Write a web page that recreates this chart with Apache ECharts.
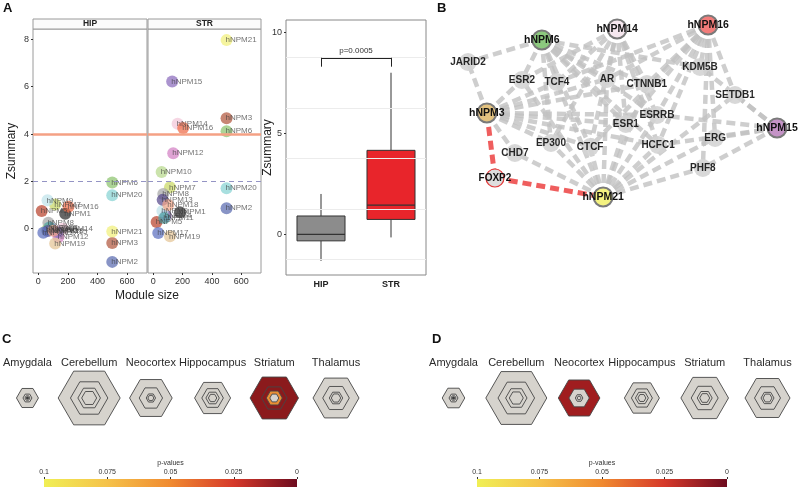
<!DOCTYPE html>
<html><head><meta charset="utf-8">
<script src="https://cdn.jsdelivr.net/npm/echarts@6/dist/echarts.min.js"></script>
<style>html,body{margin:0;padding:0;background:#fff}#c{width:800px;height:487px}</style>
</head><body><div id="c"></div>
<script>
// ---------- Panel A: scatter data ----------
const modules = ['hNPM1','hNPM2','hNPM3','hNPM4','hNPM5','hNPM6','hNPM7','hNPM8','hNPM9','hNPM10','hNPM11','hNPM12','hNPM13','hNPM14','hNPM15','hNPM16','hNPM17','hNPM18','hNPM19','hNPM20','hNPM21'];
const moduleSize = [182, 500, 500, 85, 23, 500, 114, 68, 62, 57, 75, 136, 64, 166, 129, 204, 34, 102, 114, 500, 500];
const zHIP = [0.63, -1.4, -0.6, 0.02, 0.75, 1.95, 1.02, 0.25, 1.2, -0.05, 0.05, -0.35, -0.1, 0.0, -0.15, 0.93, -0.17, -0.08, -0.62, 1.42, -0.12];
const zSTR = [0.7, 0.87, 4.67, 0.55, 0.28, 4.12, 1.75, 1.47, 0.75, 2.4, 0.45, 3.19, 1.22, 4.44, 6.22, 4.26, -0.18, 1.0, -0.32, 1.71, 7.97];
const moduleColors = ['#2b2b2b','#5a6bb0','#b2573f','#7d5fa8','#b9432d','#8cc46d','#c9d865','#a6a6a6','#bfe3ea','#b7d88c','#4fa3a5','#d27fc4','#574a8c','#f2c6d8','#8a6bbd','#ef6b47','#5c6fbf','#f4a688','#e4c595','#86d2d2','#f1f07a'];
const thresholdSolid = 4;
const thresholdDashed = 2;
const xTicks = [0, 200, 400, 600];
const yTicks = [0, 2, 4, 6, 8];

// ---------- Panel A: boxplot ----------
const groups = ['HIP', 'STR'];
const boxHIP = [-1.31, -0.32, 0.0, 0.91, 2.0];   // min, Q1, median, Q3, max
const boxSTR = [-0.15, 0.74, 1.45, 4.16, 8.0];
const boxYTicks = [0, 5, 10];
const boxGridLines = [-1.25, 1.25, 3.75, 6.25, 8.75];
const pText = 'p=0.0005';
const bracketTop = 8.74, bracketBottom = 8.3;

// ---------- Panel B: network ----------
const netNodes = ['hNPM6','hNPM14','hNPM16','hNPM3','hNPM15','hNPM21','JARID2','ESR2','TCF4','AR','CTNNB1','KDM5B','SETDB1','ESRRB','ESR1','ERG','EP300','CTCF','HCFC1','CHD7','PHF8','FOXP2'];
const netX = [29.1, 50.6, 76.6, 13.4, 96.3, 46.6, 8.0, 23.4, 33.4, 47.7, 59.1, 74.3, 84.3, 62.0, 53.1, 78.6, 31.7, 42.9, 62.3, 21.4, 75.1, 15.7];
const netY = [12.5, 7.0, 5.0, 49.0, 56.5, 91.0, 23.5, 32.5, 33.5, 32.0, 34.5, 26.0, 40.0, 50.0, 54.5, 61.5, 64.0, 66.0, 65.0, 69.0, 76.5, 81.5];
const netModuleColors = {hNPM6:'#8cc97e', hNPM14:'#f6e7ef', hNPM16:'#f27c7a', hNPM3:'#e3c27f', hNPM15:'#c493c6', hNPM21:'#f4f280'};
const netEdges = {
  hNPM6: ['JARID2','ESR2','TCF4','AR','CTNNB1','ESR1','ESRRB','EP300','CTCF','HCFC1','KDM5B'],
  hNPM14: ['ESR2','TCF4','AR','CTNNB1','ESR1','ESRRB','EP300','CTCF','HCFC1'],
  hNPM16: ['KDM5B','SETDB1','CTNNB1','AR','ESRRB','ESR1','ERG','HCFC1','PHF8','CTCF','TCF4'],
  hNPM3: ['JARID2','ESR2','TCF4','AR','CTNNB1','ESR1','ESRRB','EP300','CTCF','CHD7','HCFC1'],
  hNPM15: ['SETDB1','ERG','PHF8','ESRRB','HCFC1','KDM5B'],
  hNPM21: ['CHD7','EP300','CTCF','HCFC1','ESR1','ESRRB','PHF8','ERG','AR','CTNNB1','TCF4','ESR2','SETDB1']
};
const redEdges = [['hNPM3','FOXP2'], ['FOXP2','hNPM21']];

// ---------- Panels C & D: hexagon glyphs ----------
const regions = ['Amygdala','Cerebellum','Neocortex','Hippocampus','Striatum','Thalamus'];
const ringsC = [[11, 4.5, 2.5, 1.2], [31, 18.7, 11.3, 7.5], [21.3, 11.7, 4.7, 3], [18, 10.8, 6.7, 4.2], [24.2, 12.8, 8, 4.5], [23, 13.3, 6.7, 4.7]];
const ringsD = [[11.3, 4.5, 2.5, 1.2], [30.5, 18.3, 10.7, 7], [20.8, 10.2, 3.8, 2], [17.5, 10.5, 6.5, 4], [23.8, 13.5, 7.5, 5], [22.5, 13, 6.5, 4.5]];
const G = '#d6d3cd', R1 = '#8b1a1c', R2 = '#a01d1f', O = '#ea8f34', K = '#333333';
const fillsC = [[G, G, G, K], [G, G, G, G], [G, G, G, G], [G, G, G, G], [R1, R1, O, G], [G, G, G, G]];
const fillsD = [[G, G, G, K], [G, G, G, G], [R2, G, G, G], [G, G, G, G], [G, G, G, G], [G, G, G, G]];
const pTicks = [0, 0.025, 0.05, 0.075, 0.1];
const pMax = 0.1;

const FONT = '"Liberation Sans", Arial, Helvetica, sans-serif';
const HEX = 'path://M0,866L500,0L1500,0L2000,866L1500,1732L500,1732Z';

function scatterData(z) {
  return modules.map((m, i) => ({ name: m, value: [moduleSize[i], z[i]], itemStyle: { color: moduleColors[i] } }));
}
function scatterSeries(idx, z) {
  return {
    type: 'scatter', xAxisIndex: idx, yAxisIndex: idx, symbolSize: 12, z: 3,
    itemStyle: { opacity: 0.72 },
    label: { show: true, formatter: '{b}', position: [5, 6], align: 'left', verticalAlign: 'middle', fontSize: 8, color: '#3a3a3a', fontFamily: FONT },
    data: scatterData(z),
    markLine: {
      silent: true, symbol: 'none', label: { show: false },
      data: [
        { yAxis: thresholdSolid, lineStyle: { color: '#f4a184', width: 2.5, type: 'solid' } },
        { yAxis: thresholdDashed, lineStyle: { color: '#9494c4', width: 1.2, type: [5, 4] } }
      ]
    }
  };
}

const hexSeries = [];
[[4, ringsC, fillsC], [5, ringsD, fillsD]].forEach(([ax, rings, fills]) => {
  for (let l = 0; l < 4; l++) {
    hexSeries.push({
      type: 'scatter', xAxisIndex: ax, yAxisIndex: ax, symbol: HEX, silent: true,
      symbolSize: v => [2 * v[2], 1.732 * v[2]],
      data: regions.map((r, i) => ({ value: [i, 0, rings[i][l]], itemStyle: { color: fills[i][l], opacity: 1, borderColor: '#464646', borderWidth: 0.9 } }))
    });
  }
});

const gradient = new echarts.graphic.LinearGradient(0, 0, 1, 0, [
  { offset: 0, color: '#f0ef55' }, { offset: 0.25, color: '#f5c24a' }, { offset: 0.5, color: '#f08a30' },
  { offset: 0.75, color: '#d6392a' }, { offset: 1, color: '#6e0c1f' }
]);
function colorbarX(gi) {
  return {
    gridIndex: gi, type: 'value', min: 0, max: pMax, inverse: true, position: 'top',
    axisLine: { show: false, onZero: false }, splitLine: { show: false },
    axisTick: { show: true, length: 2, customValues: pTicks, lineStyle: { color: '#333' } },
    axisLabel: { customValues: pTicks, formatter: v => String(+v.toFixed(3)), fontSize: 7, color: '#333', margin: 3, fontFamily: FONT },
    name: 'p-values', nameLocation: 'middle', nameGap: 12, nameMoveOverlap: false, nameTextStyle: { fontSize: 7, color: '#333', fontFamily: FONT }
  };
}
function regionX(gi) {
  return { gridIndex: gi, type: 'category', data: regions, boundaryGap: false, position: 'top',
    axisLine: { show: false, onZero: false }, axisTick: { show: false },
    axisLabel: { fontSize: 11, color: '#2a2a2a', margin: 12, fontFamily: FONT, interval: 0 } };
}
function sxAxis(gi) {
  return { gridIndex: gi, type: 'value', min: -36, max: 735, axisLine: { show: false, onZero: false }, splitLine: { show: false },
    axisTick: { show: true, length: 2, customValues: xTicks, lineStyle: { color: '#333' } },
    axisLabel: { customValues: xTicks, fontSize: 9, color: '#333', margin: 4, fontFamily: FONT } };
}

const nodeData = netNodes.map((n, i) => {
  const isMod = n in netModuleColors;
  const item = { name: n, value: [netX[i], netY[i]],
    symbolSize: isMod ? 19 : 18,
    itemStyle: isMod ? { color: netModuleColors[n], borderColor: '#7a7a7a', borderWidth: 2, opacity: 1 } : { color: '#d4d4d4', opacity: 0.9 },
    label: { show: true, position: 'inside', fontWeight: 'bold', fontSize: isMod ? 10.5 : 10, color: '#111', fontFamily: FONT } };
  if (n === 'FOXP2') item.itemStyle = { color: '#dedede', borderColor: '#e23b3b', borderWidth: 1.2, opacity: 1 };
  return item;
});
const linkData = [];
Object.keys(netEdges).forEach(s => netEdges[s].forEach(t => linkData.push({ source: s, target: t })));
redEdges.forEach(([s, t]) => linkData.push({ source: s, target: t, lineStyle: { color: '#ee5555', opacity: 0.95, width: 5 } }));

const option = {
  animation: false,
  textStyle: { fontFamily: FONT },
  grid: [
    { left: 33, top: 29, width: 114, height: 244, show: true, borderColor: '#9a9a9a', borderWidth: 1 },
    { left: 148, top: 29, width: 113, height: 244, show: true, borderColor: '#9a9a9a', borderWidth: 1 },
    { left: 286, top: 20, width: 140, height: 255, show: true, borderColor: '#888', borderWidth: 1 },
    { left: 440, top: 15, width: 350, height: 200 },
    { left: 23, top: 380, width: 313, height: 36 },
    { left: 453.5, top: 380, width: 314, height: 36 },
    { left: 44, top: 479, width: 253, height: 9 },
    { left: 477, top: 479, width: 250, height: 9 }
  ],
  xAxis: [
    sxAxis(0), sxAxis(1),
    { gridIndex: 2, type: 'category', data: groups, axisLine: { show: false, onZero: false }, axisTick: { show: false },
      axisLabel: { fontSize: 9, fontWeight: 'bold', color: '#222', margin: 5 } },
    { gridIndex: 3, type: 'value', min: 0, max: 100, show: false },
    regionX(4), regionX(5),
    colorbarX(6), colorbarX(7)
  ],
  yAxis: [
    { gridIndex: 0, type: 'value', min: -1.87, max: 8.44, axisLine: { show: false, onZero: false }, splitLine: { show: false },
      axisTick: { show: true, length: 2, customValues: yTicks, lineStyle: { color: '#333' } },
      axisLabel: { customValues: yTicks, fontSize: 9, color: '#333', margin: 4 },
      name: 'Zsummary', nameLocation: 'middle', nameGap: 15, nameMoveOverlap: false, nameTextStyle: { fontSize: 12, color: '#222' } },
    { gridIndex: 1, type: 'value', min: -1.87, max: 8.44, axisLine: { show: false, onZero: false }, splitLine: { show: false },
      axisTick: { show: false }, axisLabel: { show: false } },
    { gridIndex: 2, type: 'value', min: -2.01, max: 10.61, axisLine: { show: false, onZero: false }, splitLine: { show: false },
      axisTick: { show: true, length: 2, customValues: boxYTicks, lineStyle: { color: '#333' } },
      axisLabel: { customValues: boxYTicks, fontSize: 9, color: '#333', margin: 4 },
      name: 'Zsummary', nameLocation: 'middle', nameGap: 12, nameMoveOverlap: false, nameTextStyle: { fontSize: 12, color: '#222' } },
    { gridIndex: 3, type: 'value', min: 0, max: 100, inverse: true, show: false },
    { gridIndex: 4, type: 'value', min: -1, max: 1, show: false },
    { gridIndex: 5, type: 'value', min: -1, max: 1, show: false },
    { gridIndex: 6, type: 'category', data: ['p'], show: false },
    { gridIndex: 7, type: 'category', data: ['p'], show: false }
  ],
  series: [
    scatterSeries(0, zHIP),
    scatterSeries(1, zSTR),
    { type: 'line', xAxisIndex: 2, yAxisIndex: 2, data: [], z: 1,
      markLine: { silent: true, symbol: 'none', label: { show: false },
        lineStyle: { color: '#ececec', width: 1, type: 'solid' },
        data: boxGridLines.map(v => ({ yAxis: v })) } },
    { type: 'custom', xAxisIndex: 2, yAxisIndex: 2, z: 2,
      data: [{ value: [0, ...boxHIP], itemStyle: { color: '#8c8c8c' } }, { value: [1, ...boxSTR], itemStyle: { color: '#e8252b' } }],
      renderItem: function (params, api) {
        const xi = api.value(0);
        const cx = api.coord([xi, 0])[0];
        const half = api.size([1, 0])[0] * 0.343;
        const y = k => api.coord([xi, api.value(k)])[1];
        const yMin = y(1), yQ1 = y(2), yMed = y(3), yQ3 = y(4), yMax = y(5);
        const fill = api.visual('color');
        return { type: 'group', children: [
          { type: 'line', shape: { x1: cx, y1: yMax, x2: cx, y2: yQ3 }, style: { stroke: '#333', lineWidth: 1 } },
          { type: 'line', shape: { x1: cx, y1: yQ1, x2: cx, y2: yMin }, style: { stroke: '#333', lineWidth: 1 } },
          { type: 'rect', shape: { x: cx - half, y: yQ3, width: 2 * half, height: yQ1 - yQ3 }, style: { fill: fill, stroke: '#333', lineWidth: 1 } },
          { type: 'line', shape: { x1: cx - half, y1: yMed, x2: cx + half, y2: yMed }, style: { stroke: '#333', lineWidth: 1.2 } }
        ] };
      } },
    { type: 'line', xAxisIndex: 2, yAxisIndex: 2, data: [], z: 3,
      markLine: { silent: true, symbol: 'none',
        lineStyle: { color: '#222', width: 1, type: 'solid' },
        label: { show: false },
        data: [
          [{ coord: [groups[0], bracketTop], label: { show: true, formatter: pText, position: 'middle', fontSize: 8, color: '#333', distance: 3 } }, { coord: [groups[1], bracketTop] }],
          [{ coord: [groups[0], bracketTop] }, { coord: [groups[0], bracketBottom] }],
          [{ coord: [groups[1], bracketTop] }, { coord: [groups[1], bracketBottom] }]
        ] } },
    { type: 'graph', coordinateSystem: 'cartesian2d', xAxisIndex: 3, yAxisIndex: 3, roam: false,
      edgeSymbol: ['none', 'none'],
      lineStyle: { color: '#c2c2c2', width: 4.5, opacity: 0.8, type: [9, 5] },
      data: nodeData, links: linkData },
    ...hexSeries,
    { type: 'bar', xAxisIndex: 6, yAxisIndex: 6, data: [pMax], barWidth: '100%', silent: true, itemStyle: { color: gradient } },
    { type: 'bar', xAxisIndex: 7, yAxisIndex: 7, data: [pMax], barWidth: '100%', silent: true, itemStyle: { color: gradient } }
  ],
  graphic: [
    { type: 'text', left: 3, top: 2, style: { text: 'A', fontSize: 13, fontWeight: 'bold', fill: '#111', fontFamily: FONT } },
    { type: 'text', left: 437, top: 2, style: { text: 'B', fontSize: 13, fontWeight: 'bold', fill: '#111', fontFamily: FONT } },
    { type: 'text', left: 2, top: 333, style: { text: 'C', fontSize: 13, fontWeight: 'bold', fill: '#111', fontFamily: FONT } },
    { type: 'text', left: 432, top: 333, style: { text: 'D', fontSize: 13, fontWeight: 'bold', fill: '#111', fontFamily: FONT } },
    { type: 'rect', shape: { x: 33, y: 19, width: 114, height: 10 }, style: { fill: '#fbfbfb', stroke: '#9a9a9a', lineWidth: 1 } },
    { type: 'rect', shape: { x: 148, y: 19, width: 113, height: 10 }, style: { fill: '#fbfbfb', stroke: '#9a9a9a', lineWidth: 1 } },
    { type: 'text', x: 90, y: 24, style: { text: groups[0], fontSize: 8.5, fontWeight: 'bold', fill: '#222', align: 'center', verticalAlign: 'middle', fontFamily: FONT } },
    { type: 'text', x: 204.5, y: 24, style: { text: groups[1], fontSize: 8.5, fontWeight: 'bold', fill: '#222', align: 'center', verticalAlign: 'middle', fontFamily: FONT } },
    { type: 'text', x: 147, y: 296, style: { text: 'Module size', fontSize: 12, fill: '#222', align: 'center', verticalAlign: 'middle', fontFamily: FONT } }
  ]
};
const chart = echarts.init(document.getElementById('c'), null, { renderer: 'canvas' });
chart.setOption(option);
</script></body></html>
